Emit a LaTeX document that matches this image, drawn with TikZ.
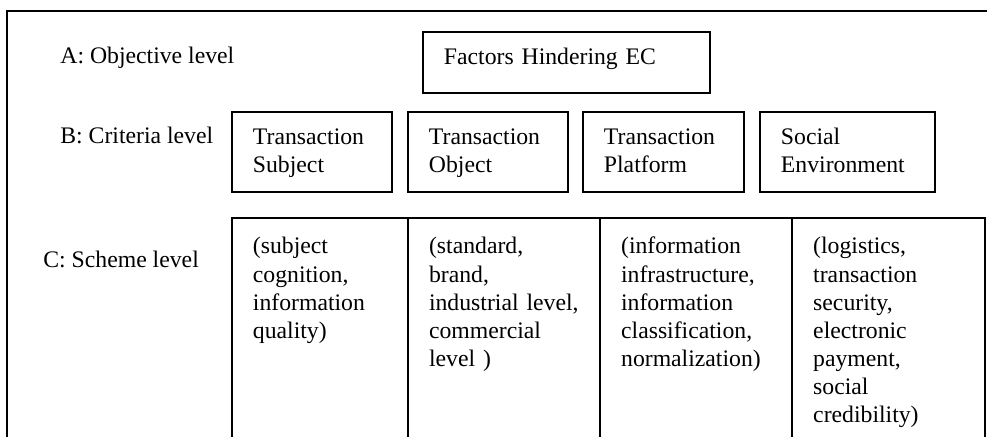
\documentclass[tikz,border=0pt]{standalone}
\usepackage{fontspec}
\setmainfont{Liberation Serif}
\usepackage{tikz}
\usetikzlibrary{positioning}

\tikzset{
  txt/.style={font=\fontsize{12}{14.2}\selectfont},
  box/.style={txt, draw, line width=1pt, outer sep=0pt, align=left, inner xsep=10.6pt, inner ysep=6pt, text height=10.2pt, anchor=north west},
  critbox/.style={box, text width=#1, text depth=18.3pt},
  schemebox/.style={box, text width=#1, text depth=100pt, text height=12.2pt},
  levellabel/.style={txt, inner sep=0pt, anchor=base west}
}

\begin{document}
\begin{tikzpicture}[x=0.506pt, y=-0.506pt]
    \useasboundingbox (0,0) rectangle (987,437);
    \clip (0,0) rectangle (987,437);

    % Frame
    \draw [line width=1pt] (7,470) |- (1010,11);

    % Level names
    \node [levellabel] (lvlA) at (60,64) {A: Objective level};
    \node [levellabel] (lvlB) at (60,144) {B: Criteria level};
    \node [levellabel] (lvlC) at (43,268) {C: Scheme level};

    % Objective
    \node [box, text width=124pt, text depth=8.6pt] (goal) at (423,32) {Factors Hindering EC};

    % Criteria
    \node [critbox=59.8pt] (subj) at (232,112) {Transaction\\Subject};
    \node [critbox=59.8pt] (obj) at (408,112) {Transaction\\Object};
    \node [critbox=60.3pt] (plat) at (583,112) {Transaction\\Platform};
    \node [critbox=67.4pt] (env) at (760,112) {Social\\Environment};

    % Schemes
    \node [schemebox=67.9pt] (cogn) at (232,218) {(subject\\cognition,\\information\\quality)};
    \node [schemebox=76pt] (brand) at (cogn.north east) {(standard,\\brand,\\industrial level,\\commercial\\level )};
    \node [schemebox=76pt] (infra) at (brand.north east) {(information\\infrastructure,\\information\\classification,\\normalization)};
    \node [schemebox=76.5pt] (logi) at (infra.north east) {(logistics,\\transaction\\security,\\electronic\\payment,\\social\\credibility)};
\end{tikzpicture}
\end{document}
